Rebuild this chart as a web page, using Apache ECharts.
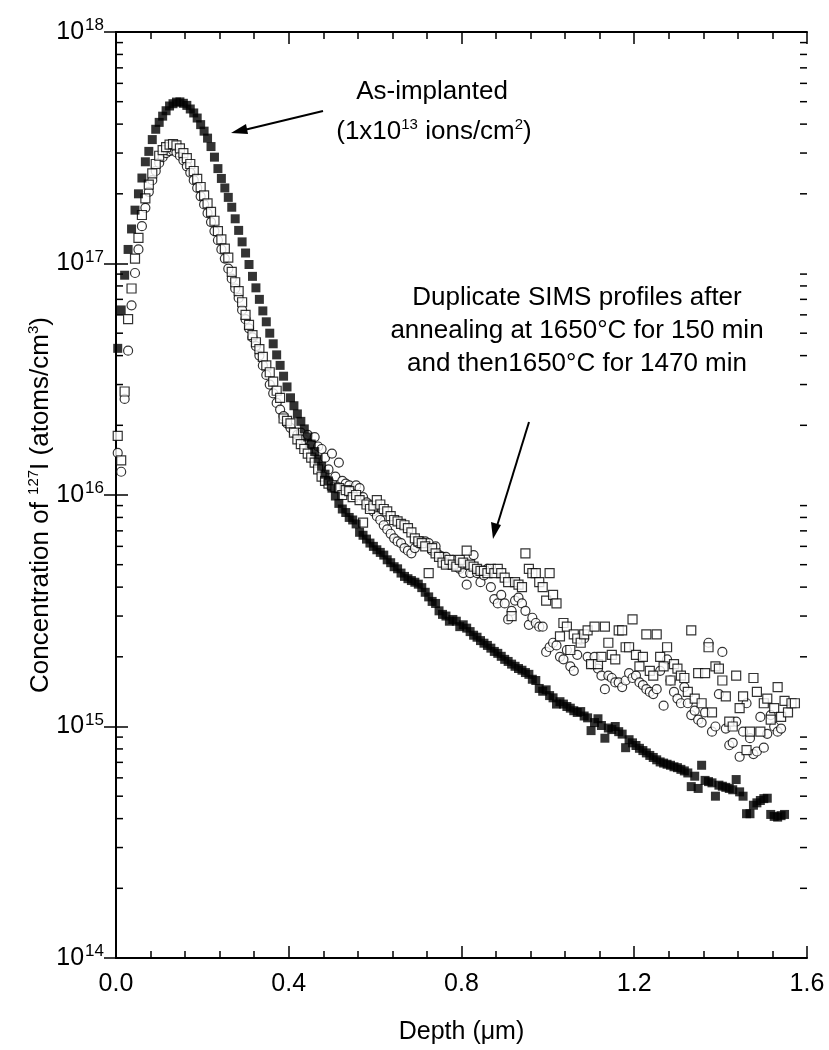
<!DOCTYPE html>
<html>
<head>
<meta charset="utf-8">
<title>127I SIMS depth profiles</title>
<script src="https://cdn.jsdelivr.net/npm/echarts@6/dist/echarts.min.js"></script>
<style>
  html, body { margin: 0; padding: 0; background: #fff; }
  #chart { width: 829px; height: 1050px; }
</style>
</head>
<body>
<div id="chart"></div>
<script>
// SIMS depth grid (um): first point and spacing of the scans
const depthStart = 0.004
const depthStep = 0.008

// as-implanted, 1x10^13 ions/cm2 (filled squares)
const asImplanted = [
  4.3e16, 6.3e16, 8.9e16, 1.15e17, 1.41e17, 1.70e17, 2.0e17, 2.34e17, 2.75e17, 3.05e17,
  3.43e17, 3.80e17, 4.07e17, 4.33e17, 4.57e17, 4.79e17, 4.90e17, 4.98e17, 4.99e17, 4.92e17,
  4.82e17, 4.65e17, 4.47e17, 4.25e17, 3.98e17, 3.73e17, 3.48e17, 3.20e17, 2.88e17, 2.57e17,
  2.33e17, 2.12e17, 1.93e17, 1.75e17, 1.56e17, 1.39e17, 1.24e17, 1.11e17, 9.9e16, 8.8e16,
  7.85e16, 7.0e16, 6.24e16, 5.6e16, 5.0e16, 4.5e16, 4.03e16, 3.63e16, 3.26e16, 2.93e16,
  2.63e16, 2.43e16, 2.24e16, 2.08e16, 1.93e16, 1.78e16, 1.66e16, 1.54e16, 1.43e16, 1.33e16,
  1.23e16, 1.15e16, 1.07e16, 9.9e15, 9.2e15, 8.7e15, 8.4e15, 8.0e15, 7.8e15, 7.5e15,
  6.9e15, 6.7e15, 6.45e15, 6.2e15, 6.0e15, 5.8e15, 5.65e15, 5.5e15, 5.25e15, 5.1e15,
  4.9e15, 4.8e15, 4.6e15, 4.45e15, 4.35e15, 4.27e15, 4.2e15, 4.12e15, 3.98e15, 3.8e15,
  3.63e15, 3.47e15, 3.4e15, 3.16e15, 3.05e15, 3.0e15, 2.85e15, 2.9e15, 2.85e15, 2.7e15,
  2.75e15, 2.66e15, 2.57e15, 2.48e15, 2.43e15, 2.35e15, 2.29e15, 2.24e15, 2.18e15, 2.11e15,
  2.07e15, 2.01e15, 1.95e15, 1.91e15, 1.86e15, 1.82e15, 1.78e15, 1.75e15, 1.71e15, 1.68e15,
  1.60e15, 1.58e15, 1.46e15, 1.42e15, 1.44e15, 1.36e15, 1.33e15, 1.25e15, 1.28e15, 1.25e15,
  1.22e15, 1.20e15, 1.17e15, 1.15e15, 1.16e15, 1.11e15, 1.09e15, 9.6e14, 1.04e15, 1.08e15,
  1.01e15, 8.9e14, 9.85e14, 9.7e14, 1.0e15, 9.5e14, 9.27e14, 8.1e14, 8.77e14, 8.5e14,
  8.28e14, 8.05e14, 7.87e14, 7.69e14, 7.5e14, 7.35e14, 7.18e14, 7.03e14, 6.95e14, 6.87e14,
  6.8e14, 6.7e14, 6.64e14, 6.53e14, 6.43e14, 6.3e14, 5.5e14, 6.1e14, 5.4e14, 6.8e14,
  5.85e14, 5.78e14, 5.71e14, 5.0e14, 5.58e14, 5.52e14, 5.46e14, 5.4e14, 5.33e14, 5.9e14,
  5.22e14, 5.0e14, 4.2e14, 4.2e14, 4.57e14, 4.68e14, 4.79e14, 4.88e14, 4.9e14, 4.17e14,
  4.09e14, 4.06e14, 4.12e14, 4.17e14
]

// after anneal, duplicate profile 1 (open squares)
const annealedA = [
  1.8e16, 1.41e16, 2.8e16, 5.75e16, 7.8e16, 1.05e17, 1.29e17, 1.62e17, 1.91e17, 2.19e17,
  2.45e17, 2.69e17, 2.92e17, 3.09e17, 3.18e17, 3.26e17, 3.28e17, 3.24e17, 3.14e17, 3.0e17,
  2.85e17, 2.69e17, 2.51e17, 2.32e17, 2.14e17, 1.97e17, 1.82e17, 1.67e17, 1.53e17, 1.38e17,
  1.27e17, 1.16e17, 1.06e17, 9.2e16, 8.3e16, 7.6e16, 6.8e16, 6.0e16, 5.43e16, 4.9e16,
  4.57e16, 4.27e16, 3.95e16, 3.63e16, 3.39e16, 3.09e16, 2.82e16, 2.63e16, 2.14e16, 2.09e16,
  2.04e16, 1.86e16, 1.74e16, 1.66e16, 1.58e16, 1.51e16, 1.45e16, 1.38e16, 1.29e16, 1.20e16,
  1.15e16, 1.12e16, 1.10e16, 1.08e16, 1.07e16, 1.0e16, 1.05e16, 1.04e16, 9.8e15, 1.0e16,
  9.5e15, 7.6e15, 9.1e15, 8.7e15, 9.0e15, 9.5e15, 9.1e15, 8.7e15, 8.5e15, 8.1e15,
  7.8e15, 7.7e15, 7.5e15, 7.4e15, 7.2e15, 6.9e15, 6.5e15, 6.3e15, 6.2e15, 6.0e15,
  4.6e15, 5.9e15, 5.6e15, 5.4e15, 5.1e15, 5.0e15, 5.25e15, 5.0e15, 4.9e15, 5.25e15,
  5.1e15, 5.75e15, 5.0e15, 4.9e15, 4.8e15, 4.7e15, 4.7e15, 4.6e15, 4.8e15, 4.6e15,
  4.8e15, 4.6e15, 4.4e15, 4.2e15, 3.0e15, 4.2e15, 4.1e15, 4.0e15, 5.6e15, 4.8e15,
  4.6e15, 4.6e15, 4.2e15, 4.0e15, 3.5e15, 4.6e15, 3.7e15, 3.4e15, 2.45e15, 2.8e15,
  2.7e15, 2.14e15, 2.5e15, 2.4e15, 2.3e15, 2.5e15, 2.6e15, 1.86e15, 2.7e15, 1.86e15,
  2.0e15, 2.7e15, 2.3e15, 2.04e15, 1.95e15, 2.6e15, 2.6e15, 2.2e15, 2.2e15, 2.9e15,
  2.04e15, 1.82e15, 2.0e15, 2.5e15, 1.74e15, 1.66e15, 2.5e15, 2.0e15, 1.82e15, 2.2e15,
  1.58e15, 1.86e15, 1.78e15, 1.66e15, 1.62e15, 1.41e15, 2.6e15, 1.32e15, 1.70e15, 1.26e15,
  1.70e15, 2.2e15, 1.15e15, 1.82e15, 1.78e15, 1.58e15, 1.35e15, 1.05e15, 1.0e15, 1.66e15,
  1.2e15, 1.35e15, 7.9e14, 9.5e14, 1.62e15, 1.41e15, 9.5e14, 1.26e15, 1.32e15, 1.07e15,
  1.2e15, 1.48e15, 1.1e15, 1.29e15, 1.15e15, 1.26e15, 1.26e15
]

// after anneal, duplicate profile 2 (open circles)
const annealedB = [
  1.52e16, 1.26e16, 2.6e16, 4.2e16, 6.6e16, 9.1e16, 1.15e17, 1.45e17, 1.74e17, 2.04e17,
  2.29e17, 2.51e17, 2.72e17, 2.88e17, 3.0e17, 3.06e17, 3.08e17, 3.02e17, 2.92e17, 2.79e17,
  2.63e17, 2.47e17, 2.29e17, 2.12e17, 1.95e17, 1.80e17, 1.65e17, 1.51e17, 1.38e17, 1.26e17,
  1.15e17, 1.05e17, 9.5e16, 8.6e16, 7.8e16, 7.1e16, 6.3e16, 5.75e16, 5.25e16, 4.8e16,
  4.4e16, 4.0e16, 3.63e16, 3.3e16, 3.0e16, 2.75e16, 2.5e16, 2.34e16, 2.19e16, 2.04e16,
  1.95e16, 1.86e16, 1.82e16, 1.86e16, 1.74e16, 1.82e16, 1.66e16, 1.78e16, 1.62e16, 1.58e16,
  1.45e16, 1.29e16, 1.51e16, 1.2e16, 1.38e16, 1.15e16, 1.12e16, 1.10e16, 1.05e16, 1.10e16,
  1.07e16, 9.8e15, 9.3e15, 8.8e15, 8.5e15, 8.1e15, 7.8e15, 7.4e15, 7.1e15, 6.8e15,
  6.5e15, 6.3e15, 6.2e15, 5.9e15, 5.75e15, 5.6e15, 5.9e15, 6.2e15, 6.3e15, 6.3e15,
  6.2e15, 5.75e15, 6.0e15, 5.5e15, 5.4e15, 5.4e15, 5.0e15, 5.25e15, 4.9e15, 4.8e15,
  4.6e15, 4.1e15, 4.6e15, 5.5e15, 4.6e15, 4.2e15, 4.5e15, 4.8e15, 4.0e15, 3.55e15,
  3.4e15, 3.7e15, 3.4e15, 2.9e15, 3.16e15, 3.5e15, 3.6e15, 3.4e15, 3.16e15, 2.75e15,
  2.95e15, 2.8e15, 2.7e15, 2.7e15, 2.1e15, 2.2e15, 2.3e15, 2.24e15, 2.0e15, 1.95e15,
  2.14e15, 1.82e15, 1.74e15, 2.04e15, 2.37e15, 2.4e15, 2.0e15, 1.86e15, 2.0e15, 1.78e15,
  1.66e15, 1.45e15, 1.66e15, 1.62e15, 1.55e15, 1.55e15, 1.48e15, 1.58e15, 1.70e15, 1.62e15,
  1.66e15, 1.55e15, 1.51e15, 1.45e15, 1.41e15, 1.38e15, 1.45e15, 1.74e15, 1.23e15, 1.95e15,
  1.58e15, 1.41e15, 1.32e15, 1.26e15, 1.48e15, 1.26e15, 1.12e15, 1.17e15, 1.07e15, 1.04e15,
  1.15e15, 2.3e15, 9.5e14, 1.0e15, 1.38e15, 2.1e15, 9.8e14, 8.3e14, 8.5e14, 1.05e15,
  7.4e14, 9.5e14, 1.26e15, 8.9e14, 7.6e14, 7.8e14, 1.1e15, 8.1e14, 9.3e14, 1.12e15,
  1.0e15, 9.5e14, 9.8e14
]

const xTicks = [0, 0.4, 0.8, 1.2, 1.6]
const yMin = 1e14
const yMax = 1e18

// log minor ticks 2..9 of every decade
const yMinorTicks = []
for (let d = yMin; d < yMax; d *= 10) {
  for (let k = 2; k <= 9; k++) yMinorTicks.push(k * d)
}

const FONT = 'Liberation Sans, Arial, sans-serif'

function withDepth(arr) {
  return arr.map((v, i) => [+(depthStart + depthStep * i).toFixed(3), v])
}

const chart = echarts.init(document.getElementById('chart'))

const axisLineStyle = { color: '#000', width: 2 }
const tickStyle = { color: '#000', width: 1.5 }

const supRich = {
  b: { fontSize: 25, fontFamily: FONT, color: '#000', lineHeight: 30 },
  sup: { fontSize: 17, fontFamily: FONT, color: '#000', lineHeight: 30, verticalAlign: 'top', padding: [0, 0, 0, 1] }
}

chart.setOption({
  animation: false,
  backgroundColor: '#fff',
  grid: { left: 116, right: 22, top: 32, bottom: 92 },
  xAxis: [
    {
      type: 'value',
      min: xTicks[0],
      max: xTicks[xTicks.length - 1],
      interval: 0.4,
      name: 'Depth (μm)',
      nameLocation: 'middle',
      nameGap: 62,
      nameTextStyle: { fontSize: 25, fontFamily: FONT, color: '#000' },
      axisLine: { lineStyle: axisLineStyle },
      axisTick: { inside: true, length: 12, lineStyle: tickStyle },
      minorTick: { show: true, splitNumber: 5, length: 7, lineStyle: tickStyle },
      axisLabel: {
        fontSize: 25, fontFamily: FONT, color: '#000', margin: 14,
        formatter: v => v.toFixed(1)
      },
      splitLine: { show: false }
    },
    {
      type: 'value',
      position: 'top',
      min: xTicks[0],
      max: xTicks[xTicks.length - 1],
      interval: 0.4,
      axisLine: { lineStyle: axisLineStyle },
      axisTick: { inside: true, length: 12, lineStyle: tickStyle },
      minorTick: { show: true, splitNumber: 5, length: 7, lineStyle: tickStyle },
      axisLabel: { show: false },
      splitLine: { show: false }
    }
  ],
  yAxis: [
    {
      type: 'log',
      logBase: 10,
      min: yMin,
      max: yMax,
      axisLine: { lineStyle: axisLineStyle },
      axisTick: { inside: true, length: 12, lineStyle: tickStyle },
      axisLabel: {
        margin: 12,
        formatter: v => '{b|10}{sup|' + Math.round(Math.log10(v)) + '}',
        rich: supRich
      },
      splitLine: { show: false }
    },
    {
      type: 'log',
      logBase: 10,
      position: 'right',
      min: yMin,
      max: yMax,
      axisLine: { lineStyle: axisLineStyle },
      axisTick: { inside: true, length: 12, lineStyle: tickStyle },
      axisLabel: { show: false },
      splitLine: { show: false }
    }
  ],
  series: [
    {
      // minor log ticks on both y axes
      type: 'custom',
      silent: true,
      clip: false,
      data: yMinorTicks.map(v => [0, v]),
      encode: { x: 0, y: 1 },
      renderItem: (params, api) => {
        const v = api.value(1)
        const l = api.coord([xTicks[0], v])
        const r = api.coord([xTicks[xTicks.length - 1], v])
        return {
          type: 'group',
          children: [
            { type: 'line', shape: { x1: l[0], y1: l[1], x2: l[0] + 7, y2: l[1] }, style: { stroke: '#000', lineWidth: 1.5 } },
            { type: 'line', shape: { x1: r[0], y1: r[1], x2: r[0] - 7, y2: r[1] }, style: { stroke: '#000', lineWidth: 1.5 } }
          ]
        }
      }
    },
    {
      name: 'Annealed B',
      type: 'scatter',
      clip: false,
      symbol: 'circle',
      symbolSize: 9,
      itemStyle: { color: '#fff', borderColor: '#000', borderWidth: 1.2 },
      data: withDepth(annealedB)
    },
    {
      name: 'Annealed A',
      type: 'scatter',
      clip: false,
      symbol: 'rect',
      symbolSize: 9,
      itemStyle: { color: '#fff', borderColor: '#000', borderWidth: 1.2 },
      data: withDepth(annealedA)
    },
    {
      name: 'As-implanted',
      type: 'scatter',
      clip: false,
      symbol: 'rect',
      symbolSize: 9,
      itemStyle: { color: '#000' },
      data: withDepth(asImplanted)
    }
  ],
  graphic: [
    {
      type: 'text',
      x: 41, y: 505,
      rotation: Math.PI / 2,
      style: {
        text: '{b|Concentration of }{sup|127}{b|I (atoms/cm}{sup|3}{b|)}',
        align: 'center',
        verticalAlign: 'middle',
        rich: {
          b: { fontSize: 26, fontFamily: FONT, fill: '#000', lineHeight: 30 },
          sup: { fontSize: 15, fontFamily: FONT, fill: '#000', lineHeight: 30, verticalAlign: 'top' }
        }
      }
    },
    {
      type: 'text', x: 432, y: 92,
      style: { text: 'As-implanted', font: '26px ' + FONT, fill: '#000', align: 'center', verticalAlign: 'middle' }
    },
    {
      type: 'text', x: 434, y: 132,
      style: {
        text: '{b|(1x10}{sup|13}{b| ions/cm}{sup|2}{b|)}',
        align: 'center',
        verticalAlign: 'middle',
        rich: {
          b: { fontSize: 26, fontFamily: FONT, fill: '#000', lineHeight: 30 },
          sup: { fontSize: 15, fontFamily: FONT, fill: '#000', lineHeight: 30, verticalAlign: 'top' }
        }
      }
    },
    {
      type: 'text', x: 577, y: 298,
      style: { text: 'Duplicate SIMS profiles after', font: '26px ' + FONT, fill: '#000', align: 'center', verticalAlign: 'middle' }
    },
    {
      type: 'text', x: 577, y: 331,
      style: { text: 'annealing at 1650°C for 150 min', font: '26px ' + FONT, fill: '#000', align: 'center', verticalAlign: 'middle' }
    },
    {
      type: 'text', x: 577, y: 364,
      style: { text: 'and then1650°C for 1470 min', font: '26px ' + FONT, fill: '#000', align: 'center', verticalAlign: 'middle' }
    },
    // arrow to as-implanted peak
    { type: 'line', shape: { x1: 323, y1: 111, x2: 240, y2: 131 }, style: { stroke: '#000', lineWidth: 2 } },
    { type: 'polygon', shape: { points: [[231, 133], [246, 124], [248, 134]] }, style: { fill: '#000' } },
    // arrow to annealed profiles
    { type: 'line', shape: { x1: 529, y1: 422, x2: 497, y2: 526 }, style: { stroke: '#000', lineWidth: 2 } },
    { type: 'polygon', shape: { points: [[493, 539], [491, 522], [501, 525]] }, style: { fill: '#000' } }
  ]
})
</script>
</body>
</html>
